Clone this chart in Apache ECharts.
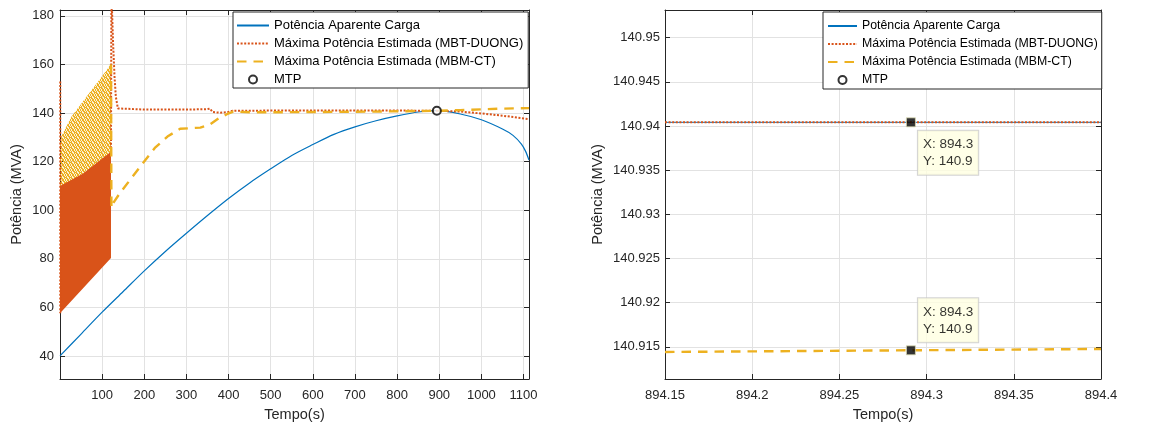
<!DOCTYPE html>
<html><head><meta charset="utf-8">
<script src="https://cdn.jsdelivr.net/npm/echarts@6/dist/echarts.min.js"></script>
<style>html,body{margin:0;padding:0;background:#fff}#c{width:1157px;height:428px}</style>
</head><body><div id="c"></div>
<script>
// ================= DATA =================
const NAME_CARGA = 'Potência Aparente Carga';
const NAME_MBT = 'Máxima Potência Estimada (MBT-DUONG)';
const NAME_MBM = 'Máxima Potência Estimada (MBM-CT)';
const NAME_MTP = 'MTP';

// Left panel ticks
const leftXTicks = [100,200,300,400,500,600,700,800,900,1000,1100];
const leftYTicks = [40,60,80,100,120,140,160,180];
// Right panel ticks
const rightXTicks = [894.15,894.2,894.25,894.3,894.35,894.4];
const rightYTicks = [140.915,140.92,140.925,140.93,140.935,140.94,140.945,140.95];

// Apparent load power (blue)
const cargaT = [0,50,100,150,200,250,300,350,400,450,500,550,600,650,700,750,800,850,894.3,950,1000,1050,1075,1095,1105,1113];
const cargaV = [40,49,58,66.5,75,83,90.5,97.8,104.8,111.2,117,122.5,127,131.2,134.3,136.8,138.8,140.4,140.94,139.6,137.2,133.4,130.8,127.2,124.2,120.6];

// MBT-DUONG (red dotted): initial vertical stroke, then main trace
const mbtStartT = [0.6,0.6];
const mbtStartV = [153,57.6];
const mbtT = [121,122,124.5,126,129.4,132.5,137.3,142,200,300,350,356,362,380,396,410,500,600,700,800,894.3,950,1000,1050,1113];
const mbtV = [124,190,190,168.7,154.9,146.7,141.9,141.5,141.4,141.4,141.6,141.8,140.4,140.1,140.3,140.9,141.0,141.0,141.0,141.0,140.94,140.6,139.8,138.9,137.5];

// MBM-CT (yellow dashed)
const mbmT = [121,122,126,142,170,197,225,255,285,333,355,375,396,411,450,500,600,700,800,894.3,950,1000,1050,1113];
const mbmV = [160,101,102.8,107,113.3,119.4,125.6,130.3,133.5,134,135.2,137.6,139.5,140.6,140.3,140.3,140.4,140.5,140.7,140.915,141.2,141.5,141.8,142];

// Oscillation envelopes (t < 121 s)
const orangeLowT = [0,121];           const orangeLowV = [57.6,80.3];
const orangeUpT  = [0,54,121];        const orangeUpV  = [110,115,124];
const yellowLowT = [0,121];           const yellowLowV = [104,121];
const yellowUpT  = [0,3,27,66,90,114,121];
const yellowUpV  = [127,130.3,138.5,147.4,152.9,158.4,160.4];

// MTP point
const mtpT = [894.3];
const mtpV = [140.94];

// Right panel (zoom around MTP)
const zoomT = [894.15,894.4];
const zoomCarga = [140.94042,140.94042];
const zoomMbt = [140.94042,140.94042];
const zoomMbm = [140.91441,140.91475];
const tipT = [894.291,894.291];
const tipV = [140.94042,140.9146];

// ================= STYLE =================
const FONT = 'Liberation Sans, Arial, Helvetica, sans-serif';
const AX = '#262626';
const GRIDC = '#e2e2e2';
const BLUE = '#0072BD', RED = '#D95319', YEL = '#EDB120';

const pairs = (t, v) => t.map((x, i) => [x, v[i]]);

// speckled texture for the MBM-CT oscillation band
const SPECKLE_MASK = ['10110', '01011', '11001', '01101', '10110'];
function speckle() {
  const c = document.createElement('canvas');
  c.width = 5; c.height = 5;
  const g = c.getContext('2d');
  SPECKLE_MASK.forEach((row, y) => row.split('').forEach((ch, x) => {
    g.fillStyle = ch === '1' ? YEL : 'rgba(237,177,32,0.18)';
    g.fillRect(x, y, 1, 1);
  }));
  return { image: c, repeat: 'repeat' };
}

function xAxes(gi, min, max, ticks, nameGap) {
  return [{
    gridIndex: gi, type: 'value', min, max, position: 'bottom',
    axisLine: { show: true, onZero: false, lineStyle: { color: AX, width: 1 } },
    axisTick: { show: true, inside: true, length: 5, customValues: ticks, lineStyle: { color: AX } },
    axisLabel: { show: true, customValues: ticks, formatter: v => String(v), margin: 10, color: AX, fontSize: 13, fontFamily: FONT },
    splitLine: { show: true, lineStyle: { color: GRIDC, width: 1 } },
    name: 'Tempo(s)', nameLocation: 'middle', nameGap: nameGap,
    nameTextStyle: { color: AX, fontSize: 14.5, fontFamily: FONT }
  }, {
    gridIndex: gi, type: 'value', min, max, position: 'top',
    axisLine: { show: true, onZero: false, lineStyle: { color: AX, width: 1 } },
    axisTick: { show: true, inside: true, length: 5, customValues: ticks, lineStyle: { color: AX } },
    axisLabel: { show: false }, splitLine: { show: false }
  }];
}
function yAxes(gi, min, max, ticks, nameGap, margin) {
  return [{
    gridIndex: gi, type: 'value', min, max, position: 'left',
    axisLine: { show: true, onZero: false, lineStyle: { color: AX, width: 1 } },
    axisTick: { show: true, inside: true, length: 5, customValues: ticks, lineStyle: { color: AX } },
    axisLabel: { show: true, customValues: ticks, formatter: v => String(v), margin: margin, color: AX, fontSize: 13, fontFamily: FONT },
    splitLine: { show: true, lineStyle: { color: GRIDC, width: 1 } },
    name: 'Potência (MVA)', nameLocation: 'middle', nameGap: nameGap, nameRotate: 90,
    nameTextStyle: { color: AX, fontSize: 14.5, fontFamily: FONT }
  }, {
    gridIndex: gi, type: 'value', min, max, position: 'right',
    axisLine: { show: true, onZero: false, lineStyle: { color: AX, width: 1 } },
    axisTick: { show: true, inside: true, length: 5, customValues: ticks, lineStyle: { color: AX } },
    axisLabel: { show: false }, splitLine: { show: false }
  }];
}

function bandRender(upT, upV, loT, loV, fill) {
  return function (params, api) {
    if (params.dataIndex !== 0) return;
    const pts = [];
    upT.forEach((t, i) => pts.push(api.coord([t, upV[i]])));
    for (let i = loT.length - 1; i >= 0; i--) pts.push(api.coord([loT[i], loV[i]]));
    return { type: 'polygon', shape: { points: pts }, style: { fill: fill } };
  };
}

const legendItems = [
  { name: NAME_CARGA, itemStyle: { opacity: 0 } },
  { name: NAME_MBT, itemStyle: { opacity: 0 } },
  { name: NAME_MBM, itemStyle: { opacity: 0 } },
  { name: NAME_MTP }
];
function legendAt(left, itemWidth, fontSize, gap, padding) {
  return {
    orient: 'vertical', left: left, top: 12, data: legendItems,
    backgroundColor: '#fff', borderColor: AX, borderWidth: 1, borderRadius: 0,
    padding: padding, itemWidth: itemWidth, itemHeight: 8, itemGap: gap,
    selectedMode: false,
    textStyle: { color: '#000', fontSize: fontSize, fontFamily: FONT }
  };
}

const mbtData = pairs(mbtStartT, mbtStartV).concat([[60, '-']], pairs(mbtT, mbtV));

const tipLabelPos = [
  { position: [12, 13.5], verticalAlign: 'top' },
  { position: [12, -3], verticalAlign: 'bottom' }
];
const tipData = pairs(tipT, tipV).map((p, i) => ({
  value: p,
  label: { position: tipLabelPos[i].position, verticalAlign: tipLabelPos[i].verticalAlign, align: 'left' }
}));

const option = {
  animation: false,
  backgroundColor: '#fff',
  grid: [
    { left: 60, top: 10, width: 469, height: 369 },
    { left: 665, top: 10, width: 436, height: 369 }
  ],
  legend: [legendAt(233, 32, 13, 5, [7, 5, 2, 3]), legendAt(823, 29, 12.3, 6, [8, 4, 3, 4])],
  xAxis: [].concat(xAxes(0, 0, 1113, leftXTicks, 28), xAxes(1, 894.15, 894.4, rightXTicks, 28)),
  yAxis: [].concat(yAxes(0, 30.5, 182.4, leftYTicks, 36, 6), yAxes(1, 140.91135, 140.95314, rightYTicks, 60, 5)),
  series: [
    { type: 'custom', name: 'osc MBM', xAxisIndex: 0, yAxisIndex: 0, z: 1, silent: true,
      data: [[0, yellowUpV[0]]], renderItem: bandRender(yellowUpT, yellowUpV, yellowLowT, yellowLowV, speckle()) },
    { type: 'custom', name: 'osc MBT', xAxisIndex: 0, yAxisIndex: 0, z: 2, silent: true,
      data: [[0, orangeUpV[0]]], renderItem: bandRender(orangeUpT, orangeUpV, orangeLowT, orangeLowV, RED) },
    { type: 'line', name: NAME_CARGA, xAxisIndex: 0, yAxisIndex: 0, z: 3, symbol: 'none', smooth: 0.3,
      data: pairs(cargaT, cargaV), lineStyle: { color: BLUE, width: 1.2 }, itemStyle: { color: BLUE } },
    { type: 'line', name: NAME_MBT, xAxisIndex: 0, yAxisIndex: 0, z: 4, symbol: 'none', connectNulls: false,
      data: mbtData, lineStyle: { color: RED, width: 2, type: [2, 1.6] }, itemStyle: { color: RED } },
    { type: 'line', name: NAME_MBM, xAxisIndex: 0, yAxisIndex: 0, z: 5, symbol: 'none',
      data: pairs(mbmT, mbmV), lineStyle: { color: YEL, width: 2.4, type: [9.5, 7] }, itemStyle: { color: YEL } },
    { type: 'scatter', name: NAME_MTP, xAxisIndex: 0, yAxisIndex: 0, z: 6, symbol: 'emptyCircle', symbolSize: 8,
      data: pairs(mtpT, mtpV), itemStyle: { color: '#000', borderWidth: 2 } },

    { type: 'line', name: NAME_CARGA, xAxisIndex: 2, yAxisIndex: 2, z: 3, symbol: 'none',
      data: pairs(zoomT, zoomCarga), lineStyle: { color: BLUE, width: 1 } },
    { type: 'line', name: NAME_MBT, xAxisIndex: 2, yAxisIndex: 2, z: 4, symbol: 'none',
      data: pairs(zoomT, zoomMbt), lineStyle: { color: RED, width: 2, type: [2, 1.6] } },
    { type: 'line', name: NAME_MBM, xAxisIndex: 2, yAxisIndex: 2, z: 5, symbol: 'none',
      data: pairs(zoomT, zoomMbm), lineStyle: { color: YEL, width: 2.4, type: [9.5, 7] } },
    { type: 'scatter', name: 'datatip', xAxisIndex: 2, yAxisIndex: 2, z: 10, symbol: 'rect', symbolSize: 9,
      data: tipData,
      itemStyle: { color: '#000', borderColor: '#d8d8b0', borderWidth: 1 },
      label: {
        show: true,
        formatter: p => 'X: ' + p.value[0].toFixed(1) + '\nY: ' + p.value[1].toFixed(1),
        color: '#000', fontSize: 13.5, fontFamily: FONT, lineHeight: 17,
        backgroundColor: '#ffffe1', borderColor: '#c8c8c8', borderWidth: 1,
        padding: [5, 5, 5, 5]
      } }
  ]
};

const chart = echarts.init(document.getElementById('c'), null, { renderer: 'canvas' });
chart.setOption(option);
</script>
</body></html>
